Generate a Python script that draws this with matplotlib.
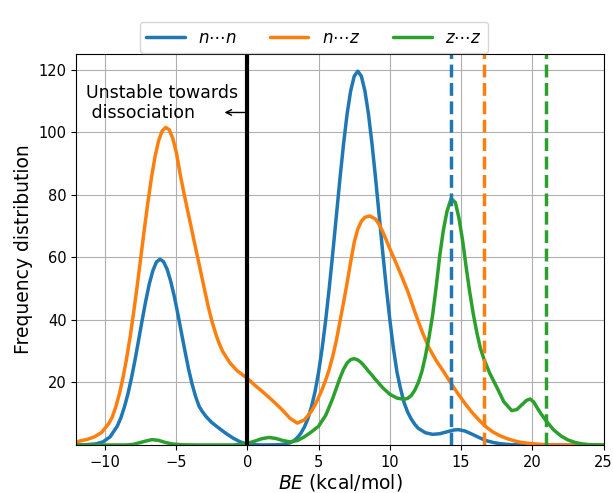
import matplotlib
matplotlib.use("Agg")
import matplotlib.pyplot as plt

# ---- data ----
labels = [r"$n\cdots n$", r"$n\cdots z$", r"$z\cdots z$"]
colors = ["#1f77b4", "#ff7f0e", "#2ca02c"]

nn_x = [-12, -11.5, -10.63, -10.13, -9.63, -9.13, -8.88, -8.63, -8.38, -8.13, -7.88,
        -7.63, -7.38, -7.13, -6.88, -6.63, -6.38, -6.13, -5.88, -5.63, -5.38, -5.13,
        -4.88, -4.63, -4.38, -4.13, -3.88, -3.63, -3.38, -3.13, -2.88, -2.5, -2.0,
        -1.5, -1.0, -0.5, 0, 1, 2, 2.5, 3.0, 3.25, 3.5, 3.75, 4.0, 4.25, 4.5, 4.75,
        5.0, 5.25, 5.5, 5.75, 6.0, 6.25, 6.5, 6.75, 7.0, 7.25, 7.5, 7.75, 8.0, 8.25,
        8.5, 8.75, 9.0, 9.25, 9.5, 9.75, 10.0, 10.25, 10.5, 10.75, 11.0, 11.25, 11.5,
        11.75, 12.0, 12.5, 13.0, 13.5, 14.0, 14.5, 14.8, 15.25, 15.75, 16.25, 16.75,
        17.25, 17.75, 18.5, 19.5, 25]
nn_y = [0, 0.02, 0.34, 1.0, 2.6, 6.0, 8.6, 12.1, 16.3, 21.4, 27.2,
        33.5, 39.9, 46.0, 51.5, 55.7, 58.5, 59.4, 58.6, 56.2, 52.4, 47.6,
        42.0, 36.0, 30.1, 24.4, 19.5, 15.5, 12.3, 10.5, 9.0, 7.2, 5.4,
        3.7, 2.2, 1.0, 0.2, 0, 0.05, 0.2, 0.7, 1.3, 2.3, 3.7, 5.7, 8.4, 12.2, 17.0,
        23.3, 30.9, 40.0, 50.3, 61.6, 73.4, 85.2, 96.2, 105.8, 113.2, 117.9, 119.5,
        117.9, 113.2, 105.8, 96.2, 85.2, 73.4, 61.6, 50.3, 40.0, 30.9, 23.3, 18.0,
        13.5, 10.5, 8.3, 6.6, 5.3, 3.9, 3.4, 3.6, 4.2, 4.8, 4.9, 4.5, 3.5, 2.4, 1.4,
        0.8, 0.4, 0.1, 0, 0]

nz_x = [-12, -11.23, -10.73, -10.23, -9.73, -9.48, -9.23, -8.98, -8.73, -8.48, -8.23,
        -7.98, -7.73, -7.48, -7.23, -6.98, -6.73, -6.48, -6.23, -5.98, -5.73, -5.48,
        -5.23, -4.98, -4.73, -4.48, -4.23, -3.98, -3.73, -3.48, -3.23, -2.98, -2.73,
        -2.48, -2.23, -1.98, -1.73, -1.23, -0.73, 0, 0.5, 1.0, 1.5, 2.0, 2.5, 3.0,
        3.5, 4.0, 4.5, 4.75, 5.0, 5.25, 5.5, 5.75, 6.0, 6.25, 6.5, 6.75, 7.0, 7.25,
        7.5, 7.75, 8.0, 8.25, 8.6, 9.0, 9.25, 9.5, 9.75, 10.0, 10.3, 10.75, 11.25,
        11.75, 12.25, 12.75, 13.25, 13.75, 14.25, 14.75, 15.25, 15.75, 16.25, 16.75,
        17.25, 17.75, 18.25, 18.75, 19.25, 20.0, 20.75, 21.5, 22.5, 25]
nz_y = [1.0, 1.8, 2.6, 4.0, 6.8, 8.9, 12.2, 16.3, 21.4, 27.4, 34.4,
        42.3, 50.8, 59.8, 68.8, 77.5, 85.4, 92.1, 97.2, 100.4, 101.5, 100.8,
        98.0, 93.5, 87.0, 81.2, 75.8, 70.5, 65.1, 59.8, 54.5, 49.2, 44.0,
        39.5, 35.7, 32.5, 29.9, 26.3, 23.8, 21.3, 19.2, 17.3, 15.3, 13.2, 11.0, 8.5,
        7.0, 8.0, 10.8, 12.8, 15.2, 17.8, 20.8, 24.2, 28.5, 33.5, 39.5, 45.5, 51.8,
        58.5, 64.8, 69.0, 71.5, 72.8, 73.2, 72.2, 70.5, 68.2, 65.5, 62.7, 59.6, 54.8,
        49.2, 42.6, 36.4, 31.0, 27.0, 23.6, 20.0, 16.6, 13.4, 10.5, 8.0, 5.8, 4.1, 2.9,
        2.0, 1.3, 0.8, 0.4, 0.15, 0.03, 0, 0]

zz_x = [-12, -8.5, -8, -7.5, -7, -6.7, -6.25, -5.75, -5.25, -4.5, -3.5, -1, -0.5, 0,
        0.5, 1, 1.5, 2, 2.5, 3, 3.5, 4, 4.5, 5, 5.5, 5.75, 6, 6.25, 6.5, 6.75, 7,
        7.25, 7.5, 7.75, 8, 8.25, 8.5, 8.75, 9, 9.5, 10, 10.5, 11, 11.25, 11.5, 11.75,
        12, 12.25, 12.5, 12.75, 13, 13.25, 13.5, 13.75, 14, 14.3, 14.6, 14.85, 15.1,
        15.35, 15.6, 15.85, 16.1, 16.35, 16.6, 17, 17.5, 18, 18.55, 18.9, 19.25, 19.6,
        19.85, 20.1, 20.35, 20.6, 21, 21.5, 22, 22.5, 23, 23.5, 24, 25]
zz_y = [0, 0, 0.2, 0.8, 1.4, 1.7, 1.5, 0.8, 0.3, 0.05, 0, 0, 0.2, 0.5,
        1.2, 2.0, 2.4, 2.1, 1.4, 1.0, 1.4, 2.6, 4.2, 6.0, 9.5, 12.2, 15.0, 18.2, 21.4,
        24.2, 26.2, 27.3, 27.6, 27.2, 26.3, 25.0, 23.6, 22.3, 20.9, 18.3, 16.2, 15.0,
        14.6, 14.9, 15.8, 17.5, 20.0, 23.5, 28.5, 34.5, 41.5, 50.5, 60.5, 68.5, 74.5,
        78.8, 77.5, 72.5, 65.5, 57.0, 49.0, 42.0, 36.0, 31.0, 27.5, 23.0, 18.5, 13.8,
        11.0, 11.3, 12.8, 14.3, 14.7, 13.7, 11.8, 10.0, 7.5, 4.8, 2.9, 1.6, 0.8, 0.35,
        0.1, 0]

vline_x = [14.3, 16.6, 20.95]   # dashed reference lines (n..n, n..z, z..z)

xticks = [-10, -5, 0, 5, 10, 15, 20, 25]
yticks = [20, 40, 60, 80, 100, 120]

# ---- figure ----
fig = plt.figure(figsize=(6.13, 4.93), dpi=100)
ax = fig.add_axes([0.1245, 0.0974, 0.8602, 0.7931])

series = [(nn_x, nn_y), (nz_x, nz_y), (zz_x, zz_y)]
handles = []
for (xs, ys), c, lab in zip(series, colors, labels):
    h, = ax.plot(xs, ys, color=c, lw=2.5, label=lab,
                 solid_joinstyle="round", solid_capstyle="round")
    handles.append(h)
for xv, c in zip(vline_x, colors):
    ax.axvline(xv, color=c, lw=2.5, ls="--")

ax.axvline(0, color="black", lw=3)

ax.set_xlim(-12, 25)
ax.set_ylim(0, 125)
ax.set_xticks(xticks)
ax.set_yticks(yticks)
ax.grid(True, color="#b0b0b0", lw=0.8)
ax.set_axisbelow(True)
ax.tick_params(labelsize=10.5)
ax.set_xlabel(r"$BE$ (kcal/mol)", fontsize=13.5, labelpad=2)
ax.set_ylabel("Frequency distribution", fontsize=13.5)

ax.text(-11.3, 115.5, "Unstable towards\n dissociation", fontsize=12.5,
        va="top", ha="left")
ax.annotate("", xy=(-1.8, 106.3), xytext=(0, 106.3),
            arrowprops=dict(arrowstyle="->", color="black", lw=1))

fig.legend(handles=handles, loc="upper center", bbox_to_anchor=(0.512, 0.972),
           ncol=3, fontsize=12, handlelength=2.3, framealpha=0.8)

fig.savefig("out.png", dpi=100)
